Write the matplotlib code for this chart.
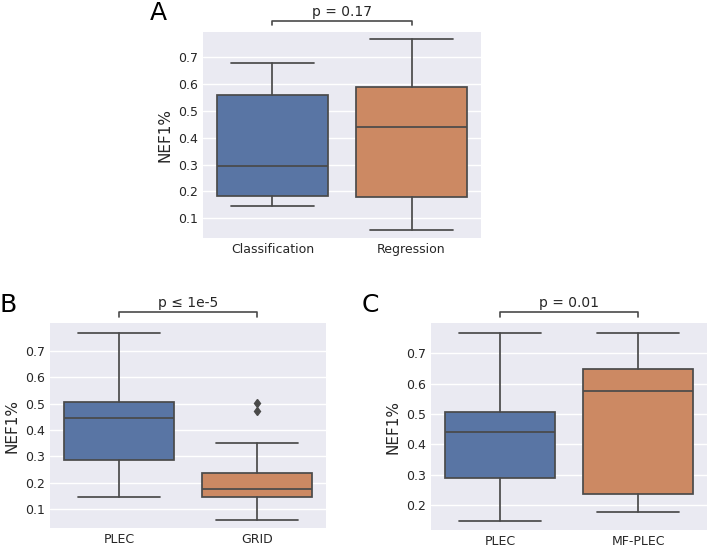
import matplotlib
matplotlib.use("Agg")
import matplotlib.pyplot as plt
import seaborn as sns

sns.set_theme(style="darkgrid")
plt.rcParams['font.family'] = ['DejaVu Sans']

# Panel A
a_labels = ["Classification", "Regression"]
a_whislo = [0.146, 0.058]
a_q1 = [0.182, 0.178]
a_med = [0.294, 0.441]
a_q3 = [0.559, 0.588]
a_whishi = [0.678, 0.767]
a_fliers = [[], []]
a_p = "p = 0.17"

# Panel B
b_labels = ["PLEC", "GRID"]
b_whislo = [0.148, 0.059]
b_q1 = [0.286, 0.148]
b_med = [0.444, 0.177]
b_q3 = [0.507, 0.236]
b_whishi = [0.768, 0.352]
b_fliers = [[], [0.503, 0.473]]
b_p = "p ≤ 1e-5"

# Panel C
c_labels = ["PLEC", "MF-PLEC"]
c_whislo = [0.148, 0.176]
c_q1 = [0.288, 0.235]
c_med = [0.442, 0.577]
c_q3 = [0.508, 0.648]
c_whishi = [0.768, 0.768]
c_fliers = [[], []]
c_p = "p = 0.01"

yticks_ab = [0.1, 0.2, 0.3, 0.4, 0.5, 0.6, 0.7]
yticks_c = [0.2, 0.3, 0.4, 0.5, 0.6, 0.7]

colors = ["#5975A4", "#CC8963"]
line_col = "#4A4A4A"

fig = plt.figure(figsize=(7.08, 5.49), dpi=100)
axA = fig.add_axes([0.2867, 0.5665, 0.3927, 0.3758])
axB = fig.add_axes([0.0706, 0.0377, 0.3898, 0.3734])
axC = fig.add_axes([0.6088, 0.0346, 0.3898, 0.3765])


def draw(ax, labels, wlo, q1, med, q3, whi, fl, ylim, yticks, ptxt, letter, letter_xy):
    stats = []
    for i in range(len(labels)):
        stats.append(dict(whislo=wlo[i], q1=q1[i], med=med[i], q3=q3[i],
                          whishi=whi[i], fliers=fl[i], label=labels[i]))
    lw = 1.25
    bp = ax.bxp(stats, positions=range(len(labels)), widths=0.8,
                patch_artist=True, showfliers=True,
                boxprops=dict(edgecolor=line_col, linewidth=lw),
                medianprops=dict(color=line_col, linewidth=lw),
                whiskerprops=dict(color=line_col, linewidth=lw),
                capprops=dict(color=line_col, linewidth=lw),
                flierprops=dict(marker='d', markerfacecolor=line_col,
                                markeredgecolor=line_col, markersize=4.5))
    for patch, c in zip(bp['boxes'], colors):
        patch.set_facecolor(c)
    for cap in bp['caps']:
        xd = cap.get_xdata()
        cx = (xd[0] + xd[1]) / 2
        cap.set_xdata([cx - 0.3, cx + 0.3])
    ax.set_xlim(-0.5, len(labels) - 0.5)
    ax.set_ylim(*ylim)
    ax.set_yticks(yticks)
    ax.set_yticklabels([f"{t:.1f}" for t in yticks])
    ax.tick_params(axis='both', labelsize=9, colors="#262626", length=0)
    ax.set_ylabel("NEF1%", fontsize=11, color="#262626")
    ax.grid(axis='x', visible=False)
    for s in ax.spines.values():
        s.set_visible(False)
    tr = ax.get_xaxis_transform()
    y_top = 1.053
    y_tip = 1.031
    ax.plot([0, 0, 1, 1], [y_tip, y_top, y_top, y_tip], color=line_col,
            lw=1.2, transform=tr, clip_on=False)
    ax.text(0.5, y_top + 0.01, ptxt, transform=tr, ha='center', va='bottom',
            fontsize=10, color="#262626")
    fig.text(letter_xy[0], letter_xy[1], letter, fontsize=18, ha='left',
             va='center', color='black')


draw(axA, a_labels, a_whislo, a_q1, a_med, a_q3, a_whishi, a_fliers,
     (0.0265, 0.7955), yticks_ab, a_p, "A", (150 / 708, 1 - 13 / 549))
draw(axB, b_labels, b_whislo, b_q1, b_med, b_q3, b_whishi, b_fliers,
     (0.028, 0.804), yticks_ab, b_p, "B", (0 / 708, 1 - 305 / 549))
draw(axC, c_labels, c_whislo, c_q1, c_med, c_q3, c_whishi, c_fliers,
     (0.1176, 0.799), yticks_c, c_p, "C", (362 / 708, 1 - 305 / 549))

fig.savefig("out.png", dpi=100)
